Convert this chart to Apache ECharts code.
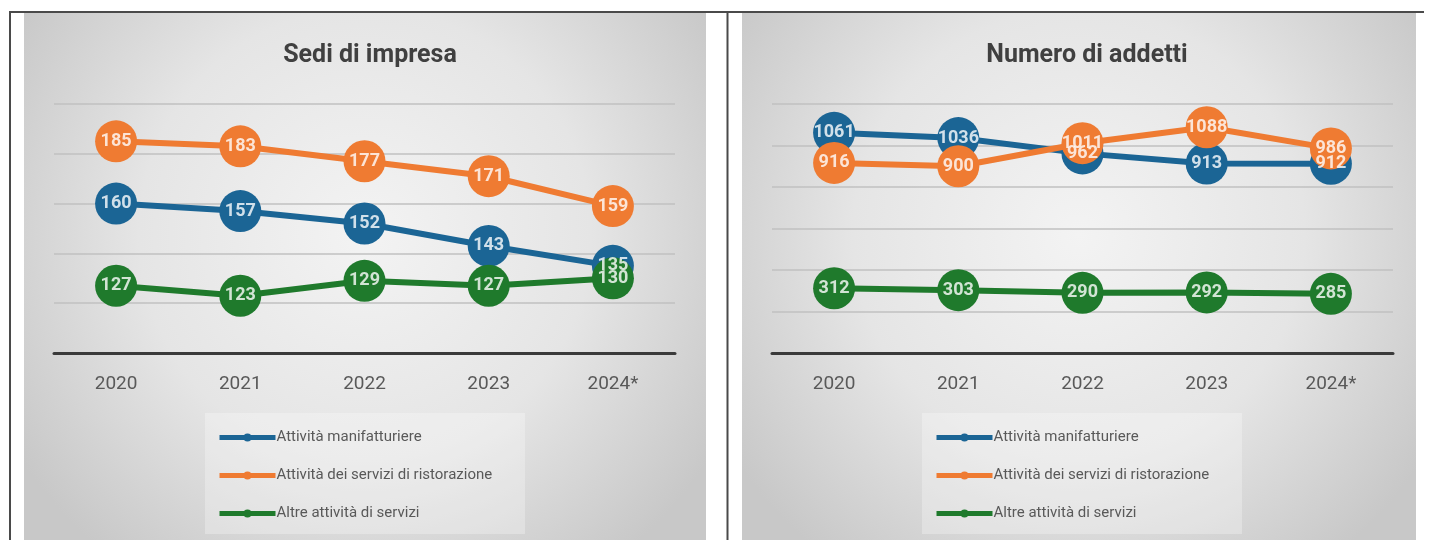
<!DOCTYPE html>
<html>
<head>
<meta charset="utf-8">
<script src="https://cdn.jsdelivr.net/npm/echarts@6/dist/echarts.min.js"></script>
<style>
  html, body { margin: 0; padding: 0; background: #ffffff; }
  #chart { width: 1436px; height: 540px; }
</style>
</head>
<body>
<div id="chart"></div>
<script>
// Years shown on both category axes
const years = ['2020', '2021', '2022', '2023', '2024*'];

// Series names (shared by both panels)
const seriesNames = [
  'Attività manifatturiere',
  'Attività dei servizi di ristorazione',
  'Altre attività di servizi'
];

// Panel 1: Sedi di impresa
const sediManifatturiere = [160, 157, 152, 143, 135];
const sediRistorazione   = [185, 183, 177, 171, 159];
const sediAltriServizi   = [127, 123, 129, 127, 130];

// Panel 2: Numero di addetti
const addettiManifatturiere = [1061, 1036, 962, 913, 912];
const addettiRistorazione   = [916, 900, 1011, 1088, 986];
const addettiAltriServizi   = [312, 303, 290, 292, 285];

const titles = ['Sedi di impresa', 'Numero di addetti'];

const colors = ['#1b6595', '#ef7b32', '#1f7a2c'];
const labelFont = '"Liberation Sans Narrow", "Roboto", "Liberation Sans", sans-serif';
const textFont = '"Roboto", "Liberation Sans", sans-serif';

const chart = echarts.init(document.getElementById('chart'), null, { renderer: 'canvas' });

function panelBackground(x, y, w, h) {
  return {
    type: 'rect',
    silent: true,
    z: -10,
    shape: { x: x, y: y, width: w, height: h },
    style: {
      fill: {
        type: 'radial', x: 0.5, y: 0.42, r: 0.78,
        colorStops: [
          { offset: 0, color: '#f3f3f3' },
          { offset: 0.55, color: '#e5e5e5' },
          { offset: 1, color: '#c8c8c8' }
        ]
      }
    }
  };
}

function legendBox(x) {
  return {
    type: 'rect', silent: true, z: -5,
    shape: { x: x, y: 413, width: 320, height: 121 },
    style: { fill: 'rgba(255,255,255,0.28)' }
  };
}

// line with its circle markers (labels drawn by a separate layer on top)
function makeLine(gridIdx, data, idx) {
  return {
    type: 'line',
    name: seriesNames[idx],
    xAxisIndex: gridIdx,
    yAxisIndex: gridIdx,
    data: data,
    symbol: 'circle',
    symbolSize: 42,
    lineStyle: { color: colors[idx], width: 6 },
    itemStyle: { color: colors[idx] },
    emphasis: { disabled: true },
    label: { show: false },
    z: 2 + idx
  };
}

// value labels for one line, kept above every marker
function makeLabels(gridIdx, data) {
  return {
    type: 'scatter',
    xAxisIndex: gridIdx,
    yAxisIndex: gridIdx,
    data: data,
    symbolSize: 1,
    itemStyle: { color: 'rgba(0,0,0,0)' },
    silent: true,
    emphasis: { disabled: true },
    labelLayout: { hideOverlap: false },
    label: {
      show: true,
      position: 'inside',
      color: '#ffffff',
      fontFamily: labelFont,
      fontWeight: 'bold',
      fontSize: 18
    },
    z: 10
  };
}

function legendFor(left) {
  return {
    orient: 'vertical',
    left: left,
    top: 425,
    itemWidth: 56,
    itemHeight: 10,
    itemGap: 23,
    data: seriesNames,
    lineStyle: { width: 5 },
    textStyle: { color: '#595959', fontSize: 15, fontFamily: textFont, padding: [0, 0, 0, -4] },
    selectedMode: false
  };
}

const option = {
  animation: false,
  backgroundColor: 'transparent',
  title: [
    { text: titles[0], left: 365, top: 38, textAlign: 'center',
      textStyle: { fontSize: 25, fontWeight: 'bold', color: '#404040', fontFamily: textFont } },
    { text: titles[1], left: 1082, top: 38, textAlign: 'center',
      textStyle: { fontSize: 25, fontWeight: 'bold', color: '#404040', fontFamily: textFont } }
  ],
  legend: [legendFor(212), legendFor(929)],
  grid: [
    { left: 54, right: 761, top: 104, bottom: 187 },
    { left: 772, right: 43, top: 104, bottom: 187 }
  ],
  xAxis: [0, 1].map(i => ({
    type: 'category',
    gridIndex: i,
    data: years,
    boundaryGap: true,
    axisLine: { show: true, lineStyle: { color: '#3a3a3a', width: 3 } },
    axisTick: { show: false },
    axisLabel: { color: '#595959', fontSize: 19, fontFamily: textFont, margin: 22 },
    splitLine: { show: false }
  })),
  yAxis: [
    { type: 'value', gridIndex: 0, min: 100, max: 200, interval: 20,
      axisLine: { show: false }, axisTick: { show: false }, axisLabel: { show: false },
      splitLine: { lineStyle: { color: '#c0c0c0', width: 1.5 } } },
    { type: 'value', gridIndex: 1, min: 0, max: 1200, interval: 200,
      axisLine: { show: false }, axisTick: { show: false }, axisLabel: { show: false },
      splitLine: { lineStyle: { color: '#c0c0c0', width: 1.5 } } }
  ],
  series: [
    makeLine(0, sediManifatturiere, 0),
    makeLine(0, sediRistorazione, 1),
    makeLine(0, sediAltriServizi, 2),
    makeLine(1, addettiManifatturiere, 0),
    makeLine(1, addettiRistorazione, 1),
    makeLine(1, addettiAltriServizi, 2),
    makeLabels(0, sediManifatturiere),
    makeLabels(0, sediRistorazione),
    makeLabels(0, sediAltriServizi),
    makeLabels(1, addettiManifatturiere),
    makeLabels(1, addettiRistorazione),
    makeLabels(1, addettiAltriServizi)
  ],
  graphic: [
    panelBackground(24, 13, 682, 527),
    panelBackground(742, 13, 674, 527),
    // frame lines around the panels
    { type: 'line', silent: true, z: 10, shape: { x1: 9, y1: 12, x2: 1424, y2: 12 },
      style: { stroke: '#4a4a4a', lineWidth: 2 } },
    { type: 'line', silent: true, z: 10, shape: { x1: 10, y1: 12, x2: 10, y2: 540 },
      style: { stroke: '#4a4a4a', lineWidth: 2 } },
    { type: 'line', silent: true, z: 10, shape: { x1: 727.5, y1: 12, x2: 727.5, y2: 540 },
      style: { stroke: '#4a4a4a', lineWidth: 2 } },
    legendBox(205),
    legendBox(922)
  ]
};

chart.setOption(option);
</script>
</body>
</html>
